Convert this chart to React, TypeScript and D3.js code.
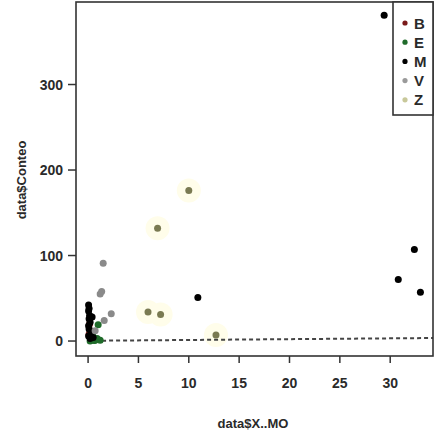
import React from "react";
import * as d3 from "d3";

// Series: X..MO (x) and Conteo (y) per group
const groups = ["B", "E", "M", "V", "Z"];
const groupColors = ["#7a1a1a", "#1f6b2a", "#000000", "#8a8a8a", "#7a7a52"];

const bX = [0.1, 0.2, 0.15];
const bY = [8, 12, 20];

const eX = [0.2, 0.3, 0.5, 0.7, 0.4, 1.0, 0.9, 1.2, 0.6, 0.35, 0.8];
const eY = [0, 2, 5, 1, 8, 19, 3, 1, 0.5, 4, 2];

const mX = [29.4, 30.8, 32.4, 33.0, 10.9, 0.05, 0.1, 0.05, 0.15, 0.1, 0.2, 0.05, 0.1, 0.3, 0.05, 0.2, 0.4, 0.5];
const mY = [381, 72, 107, 57, 51, 42, 38, 35, 30, 26, 22, 18, 14, 10, 6, 3, 28, 4];

const vX = [1.5, 1.2, 1.35, 2.3, 1.6, 0.7];
const vY = [91, 55, 58, 32, 24, 12];

const zX = [6.9, 10.0, 5.95, 7.2, 12.7];
const zY = [132, 176, 34, 31, 7];

const xTicks = [0, 5, 10, 15, 20, 25, 30];
const yTicks = [0, 100, 200, 300];

// Fitted line: Conteo ~ X..MO
const fitIntercept = 0.3;
const fitSlope = 0.095;

const W = 435;
const H = 440;

export default function App() {
  const x = d3.scaleLinear().domain([-1.2, 34.25]).range([76, 433]);
  const y = d3.scaleLinear().domain([-17.5, 396.5]).range([356, 2]);

  const series = [
    { key: "B", xs: bX, ys: bY },
    { key: "E", xs: eX, ys: eY },
    { key: "M", xs: mX, ys: mY },
    { key: "V", xs: vX, ys: vY },
    { key: "Z", xs: zX, ys: zY },
  ];
  const colorOf = (k: string) => groupColors[groups.indexOf(k)];

  const [x0, x1] = x.domain();
  const font = "'Liberation Sans', Arial, sans-serif";

  return (
    <svg
      width={W}
      height={H}
      style={{ position: "absolute", left: 0, top: 0, background: "#fff" }}
    >
      <rect width={W} height={H} fill="#fff" />
      {/* faint glow around Z points */}
      {zX.map((v, i) => (
        <circle key={"h" + i} cx={x(v)} cy={y(zY[i])} r={12} fill="#fffdea" />
      ))}

      {/* regression line */}
      <line
        x1={x(0)}
        y1={y(fitIntercept)}
        x2={x(x1)}
        y2={y(fitIntercept + fitSlope * x1)}
        stroke="#444"
        strokeWidth={2}
        strokeDasharray="4,3"
      />

      {/* points */}
      {series.map((s) =>
        s.xs.map((v, i) => (
          <circle
            key={s.key + i}
            cx={x(v)}
            cy={y(s.ys[i])}
            r={3.5}
            fill={colorOf(s.key)}
          />
        ))
      )}

      {/* plot frame */}
      <rect
        x={x(x0)}
        y={y(396.5)}
        width={x(x1) - x(x0)}
        height={y(-17.5) - y(396.5)}
        fill="none"
        stroke="#333"
        strokeWidth={1.6}
      />

      {/* x axis */}
      {xTicks.map((t) => (
        <g key={"x" + t}>
          <line x1={x(t)} x2={x(t)} y1={356} y2={363} stroke="#333" strokeWidth={1.5} />
          <text
            x={x(t)}
            y={388}
            textAnchor="middle"
            fontFamily={font}
            fontSize={14}
            fontWeight="bold"
            fill="#2a2a2a"
          >
            {t}
          </text>
        </g>
      ))}

      {/* y axis */}
      {yTicks.map((t) => (
        <g key={"y" + t}>
          <line x1={68} x2={76} y1={y(t)} y2={y(t)} stroke="#333" strokeWidth={1.5} />
          <text
            x={63}
            y={y(t) + 5}
            textAnchor="end"
            fontFamily={font}
            fontSize={14}
            fontWeight="bold"
            fill="#2a2a2a"
          >
            {t}
          </text>
        </g>
      ))}

      <text
        x={253}
        y={428}
        textAnchor="middle"
        fontFamily={font}
        fontSize={13}
        fontWeight="bold"
        fill="#2a2a2a"
      >
        data$X..MO
      </text>
      <text
        transform={`translate(26,180) rotate(-90)`}
        textAnchor="middle"
        fontFamily={font}
        fontSize={13}
        fontWeight="bold"
        fill="#2a2a2a"
      >
        data$Conteo
      </text>

      {/* legend */}
      <rect x={393} y={2} width={40} height={113} fill="#fff" stroke="#333" strokeWidth={1.6} />
      {groups.map((g, i) => (
        <g key={"l" + g}>
          <circle cx={405} cy={23 + i * 19.2} r={2.6} fill={i === 4 ? "#c8c89a" : i === 3 ? "#9a9a9a" : groupColors[i]} />
          <text
            x={414}
            y={23 + i * 19.2 + 5.5}
            fontFamily={font}
            fontSize={15}
            fontWeight="bold"
            fill="#2a2a2a"
          >
            {g}
          </text>
        </g>
      ))}
    </svg>
  );
}
